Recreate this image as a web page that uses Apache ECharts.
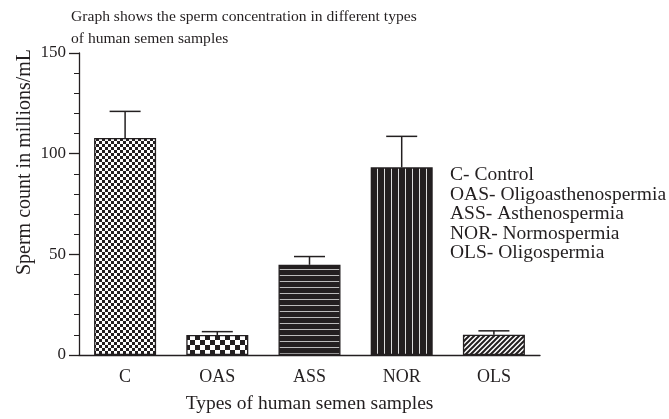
<!DOCTYPE html>
<html>
<head>
<meta charset="utf-8">
<script src="https://cdn.jsdelivr.net/npm/echarts@6/dist/echarts.min.js"></script>
<style>
  html, body { margin: 0; padding: 0; background: #fff; }
  #main { width: 669px; height: 419px; }
</style>
</head>
<body>
<div id="main"></div>
<script>
// data
var categories = ['C', 'OAS', 'ASS', 'NOR', 'OLS'];
var means = [107.8, 9.9, 44.8, 93.2, 10.1];
var errTops = [121, 11.6, 48.9, 108.6, 12];
var legendLines = ['C- Control', 'OAS- Oligoasthenospermia', 'ASS- Asthenospermia', 'NOR- Normospermia', 'OLS- Oligospermia'];

var ink = '#231f20';
var font = '"Liberation Serif", "Times New Roman", serif';

// little canvas tiles for the bar fills
function tile(w, h, draw) {
  var c = document.createElement('canvas');
  c.width = w; c.height = h;
  var ctx = c.getContext('2d');
  ctx.fillStyle = '#fff';
  ctx.fillRect(0, 0, w, h);
  draw(ctx);
  return { image: c, repeat: 'repeat' };
}
var checkFine = tile(6, 6, function (ctx) {
  ctx.fillStyle = ink;
  ctx.fillRect(0, 0, 3, 3);
  ctx.fillRect(3, 3, 3, 3);
});
var checkBig = tile(10, 10, function (ctx) {
  ctx.fillStyle = ink;
  ctx.fillRect(0, 0, 5, 5);
  ctx.fillRect(5, 5, 5, 5);
});
var hStripes = tile(6, 6, function (ctx) {
  ctx.fillStyle = ink;
  ctx.fillRect(0, 0, 6, 6);
  ctx.fillStyle = '#bbb';
  ctx.fillRect(0, 5, 6, 1);
});
var vStripes = tile(7, 7, function (ctx) {
  ctx.fillStyle = ink;
  ctx.fillRect(0, 0, 7, 7);
  ctx.fillStyle = '#ddd';
  ctx.fillRect(6, 0, 1, 7);
});
var hatch = tile(5, 5, function (ctx) {
  ctx.strokeStyle = ink;
  ctx.lineWidth = 2;
  ctx.beginPath();
  ctx.moveTo(-1, 6); ctx.lineTo(6, -1);
  ctx.moveTo(-1, 1); ctx.lineTo(1, -1);
  ctx.moveTo(4, 6); ctx.lineTo(6, 4);
  ctx.stroke();
});
var fills = [checkFine, checkBig, hStripes, vStripes, hatch];

var chart = echarts.init(document.getElementById('main'));

var option = {
  animation: false,
  title: [{
    text: 'Graph shows the sperm concentration in different types\nof human semen samples',
    left: 66,
    top: 1,
    textStyle: { color: ink, fontFamily: font, fontSize: 15.6, fontWeight: 'normal', lineHeight: 22 }
  }, {
    text: legendLines.join('\n'),
    left: 445,
    top: 160,
    textStyle: { color: ink, fontFamily: font, fontSize: 19.5, fontWeight: 'normal', lineHeight: 19.6 }
  }],
  graphic: [{
    type: 'text',
    x: 25,
    y: 162,
    rotation: Math.PI / 2,
    style: {
      text: 'Sperm count in millions/mL',
      fill: ink,
      font: '20px ' + font,
      align: 'center',
      verticalAlign: 'middle'
    }
  }],
  grid: { left: 79, right: 129, top: 53, bottom: 59 },
  xAxis: {
    type: 'category',
    data: categories,
    name: 'Types of human semen samples',
    nameLocation: 'middle',
    nameGap: 39,
    nameTextStyle: { color: ink, fontFamily: font, fontSize: 19.5 },
    axisLine: { lineStyle: { color: ink, width: 1.3 } },
    axisTick: { alignWithLabel: true, length: 6, lineStyle: { color: ink, width: 1.3 } },
    axisLabel: { color: ink, fontFamily: font, fontSize: 18, margin: 13 }
  },
  yAxis: {
    type: 'value',
    min: 0,
    max: 150,
    interval: 50,
    axisLine: { show: true, lineStyle: { color: ink, width: 1.3 } },
    axisTick: { show: true, length: 10, lineStyle: { color: ink, width: 1.3 } },
    minorTick: { show: true, splitNumber: 5, length: 5, lineStyle: { color: ink, width: 1 } },
    splitLine: { show: false },
    axisLabel: { color: ink, fontFamily: font, fontSize: 17, margin: 13 }
  },
  series: [{
    type: 'bar',
    barWidth: 62,
    data: means.map(function (v, i) {
      return { value: v, itemStyle: { color: fills[i] } };
    }),
    itemStyle: { borderColor: ink, borderWidth: 1.3 }
  }, {
    type: 'custom',
    z: 1,
    data: means.map(function (v, i) { return [i, v, errTops[i]]; }),
    renderItem: function (params, api) {
      var base = api.coord([api.value(0), api.value(1)]);
      var top = api.coord([api.value(0), api.value(2)]);
      var half = 15.5;
      return {
        type: 'group',
        children: [{
          type: 'line',
          shape: { x1: base[0], y1: base[1], x2: top[0], y2: top[1] },
          style: { stroke: ink, lineWidth: 1.5 }
        }, {
          type: 'line',
          shape: { x1: top[0] - half, y1: top[1], x2: top[0] + half, y2: top[1] },
          style: { stroke: ink, lineWidth: 1.5 }
        }]
      };
    }
  }]
};
chart.setOption(option);
</script>
</body>
</html>
